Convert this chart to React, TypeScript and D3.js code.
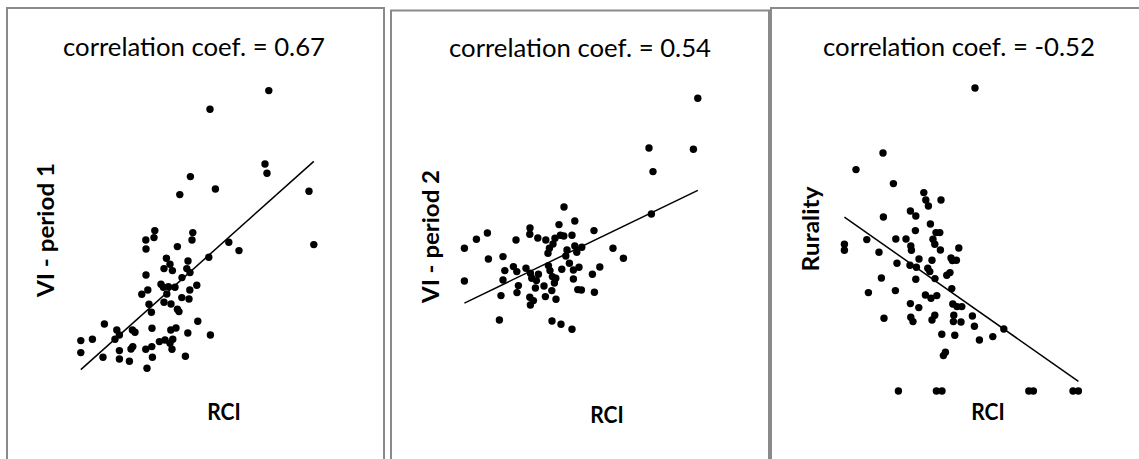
import * as d3 from "d3";

type Pt = [number, number];

const titles = [
  "correlation coef. = 0.67",
  "correlation coef. = 0.54",
  "correlation coef. = -0.52",
];
const yLabels = ["VI - period 1", "VI - period 2", "Rurality"];
const xLabel = "RCI";

// [RCI, VI period 1]
const rciVi1: Pt[] = [
  [99.4, 144.7], [70, 135.4], [97.5, 108], [98.5, 103.4], [60.2, 101.7], [72.7, 95.5],
  [54.9, 92.7], [119.5, 94.4], [121.9, 67.7], [42.4, 74.7], [42, 71.2], [37.9, 70],
  [38, 65.5], [61.4, 73.7], [61, 70], [53.7, 66.7], [79.4, 68.9], [84.5, 64.7],
  [69.4, 61.4], [48.2, 60.9], [59, 59.5], [50, 57.9], [47, 55.7], [51.2, 54.7],
  [58.4, 55.7], [60, 53.7], [56, 51.2], [38, 52.5], [45.5, 47.9], [46.7, 46.4],
  [49.2, 46.7], [52.5, 46.4], [63.4, 47.4], [59.9, 45], [38.9, 45], [35.9, 42.9],
  [48.4, 43], [55.9, 41.2], [59.5, 40.5], [47, 38.9], [50.5, 38], [39.5, 37.9],
  [53.7, 35.4], [54.5, 34.2], [40.7, 33.9], [17.2, 28], [63.9, 29.4], [23.4, 25],
  [31.2, 25], [32.5, 23.9], [41, 25.9], [50.4, 25], [53, 26], [58.9, 23.5],
  [70.2, 22.5], [24.7, 22.5], [22.5, 20.4], [11.2, 20.4], [5.4, 19.7], [44.7, 19.2],
  [47.5, 20], [51.4, 20.4], [50, 18.4], [51, 15.4], [31.4, 16.7], [30.5, 15.5],
  [40.9, 16.7], [37.9, 15.4], [24.7, 14.7], [5.4, 13.7], [16.5, 11.4], [24.7, 10.5],
  [29.7, 9.4], [41.2, 11.4], [57.7, 11.9], [38.5, 5.9],
];

// [RCI, VI period 2]
const rciVi2: Pt[] = [
  [121.4, 120.9], [97, 96], [119.2, 95.4], [99, 84.2], [98.2, 63], [54.5, 66.5],
  [59.9, 59.5], [52, 57.7], [37.5, 56], [69.5, 54.7], [16.2, 53.5], [10.7, 50.4],
  [4.7, 45.9], [37.4, 52.9], [41.4, 51], [45.4, 50], [30.5, 50], [50, 50.9],
  [52.7, 52.4], [54.4, 52], [58.5, 52.4], [49, 48], [47.2, 45.9], [46.5, 43.4],
  [59.9, 47], [63.4, 46.4], [56, 45], [60.9, 43.9], [55.4, 42], [79, 45.9],
  [84.2, 40.9], [16.7, 40.5], [24, 41.7], [29.2, 36.7], [30.9, 34.2], [35.5, 35.9],
  [24.9, 34.7], [46.7, 37.2], [47.5, 34.7], [53.4, 35.4], [57.2, 38.4], [62, 36.4],
  [59.2, 35], [72.4, 36.5], [68.7, 32.9], [37.7, 33.4], [41.7, 32.9], [38.4, 30.9],
  [40.7, 29.7], [48.7, 31.7], [50.4, 30.9], [49.7, 28.5], [59.2, 30.5], [4.7, 29.5],
  [24, 30], [31.7, 27.2], [40.2, 26], [44.5, 27], [48.4, 24.7], [61.4, 25.2],
  [63.2, 25], [69.7, 23.9], [31, 23.7], [23, 22.2], [45.2, 21.7], [50.5, 20.4],
  [37.4, 21.4], [39.2, 19.7], [37.7, 17.5], [22.2, 10], [48.5, 9.5], [53, 7.9],
  [58.5, 5.4],
];

// [RCI, Rurality]
const rciRurality: Pt[] = [
  [70, 156], [24, 123.5], [10.5, 115.2], [29.2, 108.2], [44.4, 103.7], [45.4, 100],
  [46.7, 97], [53, 100], [37.7, 94.5], [40.4, 92], [24.2, 91.5], [47.7, 88],
  [40.2, 84.7], [50.5, 83.7], [52.4, 83.7], [49, 80.4], [49.9, 77.9], [52.7, 75],
  [15.9, 80.2], [30.4, 80.5], [35.5, 80.5], [37.9, 77], [38.2, 74.9], [61.9, 76],
  [4.7, 77.9], [4.7, 74.9], [22, 73.9], [42, 70.5], [48.5, 69.9], [58, 71],
  [60.7, 69.9], [58.7, 69.7], [31, 68.4], [37.5, 67.4], [40.7, 66.4], [46.4, 65.9],
  [47.4, 64.2], [57.5, 63.7], [55.9, 62.4], [50, 60.7], [40.4, 60.4], [23.2, 61],
  [58.4, 55.7], [16.7, 53.7], [30.2, 54.7], [45.2, 52.5], [50.9, 52.2], [48, 50.9],
  [58.9, 48], [61, 46.7], [63.4, 46.7], [37.7, 48.2], [41.9, 46.2], [68.7, 42],
  [59.4, 42.4], [49.9, 42.4], [48.5, 40], [37.9, 41.4], [39, 39.2], [24.5, 40.9],
  [59.2, 39.2], [63, 39], [69.7, 36.9], [84.4, 35.5], [78.9, 31.7], [72.2, 30],
  [53.4, 32.9], [59.9, 32.4], [55.2, 23.9], [54.2, 22.2], [31.7, 4.5], [50.7, 4.5],
  [53.5, 4.5], [96.9, 4.5], [99.2, 4.5], [119, 4.5], [121.7, 4.5],
];

const series = [rciVi1, rciVi2, rciRurality];
const yMax = [150, 150, 160];

// layout of the three boxed panels
const panels = [
  { left: 7, top: 8, right: 384, px: [70, 320], py: [380, 80], tx: 194, ty: 55.5, tl: 262, lx: 53.5, ly: 230, ll: 134, rx: 224, ry: 419.5 },
  { left: 391, top: 10.5, right: 769, px: [455, 705], py: [340, 40], tx: 580, ty: 57, tl: 262, lx: 438.5, ly: 236.5, ll: 133, rx: 607, ry: 422.5 },
  { left: 771, top: 8, right: 1160, px: [835, 1085], py: [400, 80], tx: 959, ty: 55.5, tl: 272, lx: 819, ly: 229, ll: 85, rx: 988, ry: 420 },
];

function fit(data: Pt[]) {
  const mx = d3.mean(data, (d) => d[0])!;
  const my = d3.mean(data, (d) => d[1])!;
  const sxy = d3.sum(data, (d) => (d[0] - mx) * (d[1] - my));
  const sxx = d3.sum(data, (d) => (d[0] - mx) ** 2);
  const b = sxy / sxx;
  const [x0, x1] = d3.extent(data, (d) => d[0]) as [number, number];
  return [
    [x0, my + b * (x0 - mx)],
    [x1, my + b * (x1 - mx)],
  ] as Pt[];
}

const font = "Lato, 'Open Sans', sans-serif";

export default function App() {
  return (
    <svg
      width={1139}
      height={459}
      style={{ position: "absolute", left: 0, top: 0, background: "#fff" }}
    >
      {panels.map((p, i) => {
        const x = d3.scaleLinear().domain([0, 125]).range(p.px);
        const y = d3.scaleLinear().domain([0, yMax[i]]).range(p.py);
        const line = d3
          .line<Pt>()
          .x((d) => x(d[0]))
          .y((d) => y(d[1]));
        return (
          <g key={i}>
            <path
              d={`M${p.left},470V${p.top}H${p.right}V470`}
              fill="none"
              stroke="#8a8a8a"
              strokeWidth={2}
            />
            <text
              x={p.tx}
              y={p.ty}
              textAnchor="middle"
              fontFamily={font}
              fontSize={24.5}
              textLength={p.tl}
              lengthAdjust="spacingAndGlyphs"
              fill="#000"
            >
              {titles[i]}
            </text>
            <text
              transform={`translate(${p.lx},${p.ly}) rotate(-90)`}
              textAnchor="middle"
              fontFamily={font}
              fontWeight="bold"
              fontSize={22}
              textLength={p.ll}
              lengthAdjust="spacingAndGlyphs"
            >
              {yLabels[i]}
            </text>
            <text
              x={p.rx}
              y={p.ry}
              textAnchor="middle"
              fontFamily={font}
              fontWeight="bold"
              fontSize={22}
              textLength={33.5}
              lengthAdjust="spacingAndGlyphs"
            >
              {xLabel}
            </text>
            <path d={line(fit(series[i])) ?? ""} stroke="#000" strokeWidth={1.5} fill="none" />
            {series[i].map((d, j) => (
              <circle key={j} cx={x(d[0])} cy={y(d[1])} r={3.7} fill="#000" />
            ))}
          </g>
        );
      })}
    </svg>
  );
}
